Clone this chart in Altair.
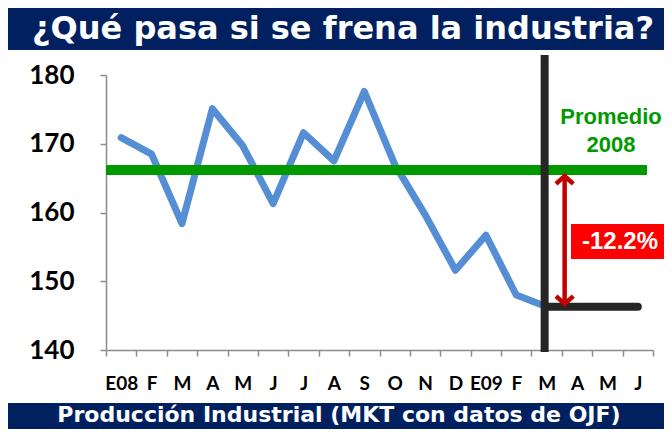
import json
import altair as alt
import pandas as pd

# ---- data ----
keys = ["E08", "F08", "M08", "A08", "MY08", "JN08", "JL08", "AG08", "S08", "O08",
        "N08", "D08", "E09", "F09", "M09", "A09", "MY09", "JN09"]
labels = ["E08", "F", "M", "A", "M", "J", "J", "A", "S", "O", "N", "D", "E09", "F", "M", "A", "M", "J"]
values = [170.9, 168.5, 158.4, 175.1, 169.7, 161.3, 171.6, 167.5, 177.6, 167.0,
          159.7, 151.6, 156.7, 148.0, 146.3]
promedio_2008 = 166.2
last_value = 146.3
change_label = "-12.2%"
title_text = "¿Qué pasa si se frena la industria?"
source_text = "Producción Industrial (MKT con datos de OJF)"
avg_label = ["Promedio", "2008"]

W, H = 547, 275
NAVY = "#002060"
BLUE = "#558ED5"
GREEN = "#009900"
DARK = "#262626"
RED = "#C00000"
AXIS = "#8c8c8c"

df = pd.DataFrame({"key": keys[:len(values)], "v": values})
label_expr = f"{json.dumps(labels)}[indexof({json.dumps(keys)}, datum.value)]"

x_enc = alt.X("key:N", sort=keys, bandPosition=0.5,
              scale=alt.Scale(type="band", domain=keys, paddingInner=0, paddingOuter=0),
              axis=alt.Axis(tickBand="extent", labelExpr=label_expr, labelAngle=0, title=None,
                            labelFont="Lato", labelFontSize=19, labelFontWeight="bold",
                            labelColor="black", tickSize=6, tickColor=AXIS, tickWidth=1.5,
                            domainColor=AXIS, domainWidth=1.5, labelPadding=18, grid=False))
y_enc = alt.Y("v:Q", scale=alt.Scale(domain=[140, 180], nice=False, zero=False),
              axis=alt.Axis(values=[140, 150, 160, 170, 180], title=None, labelFont="Lato",
                            labelFontSize=26, labelFontWeight="bold", labelColor="black",
                            tickSize=6, tickColor=AXIS, tickWidth=1.5, domainColor=AXIS,
                            domainWidth=1.5, labelPadding=26, grid=False))

line = alt.Chart(df).mark_line(color=BLUE, strokeWidth=7, strokeCap="round",
                               strokeJoin="round").encode(x=x_enc, y=y_enc)

one = pd.DataFrame({"a": [0]})

green = alt.Chart(one).mark_rule(color=GREEN, strokeWidth=10).encode(
    y=alt.datum(promedio_2008), x=alt.value(0), x2=alt.value(541))

vert = alt.Chart(one).mark_rule(color=DARK, strokeWidth=8, xOffset=-2).encode(
    x=alt.datum("M09", bandPosition=0.5), y=alt.value(-20), y2=alt.value(277))

hline_df = pd.DataFrame({"key": ["M09", "JN09"], "v": [last_value, last_value]})
hline = alt.Chart(hline_df).mark_line(color=DARK, strokeWidth=8, strokeCap="round").encode(
    x=alt.X("key:N", sort=keys, bandPosition=0.5), y="v:Q")

arrow = alt.Chart(one).mark_rule(color=RED, strokeWidth=4.5, xOffset=18).encode(
    x=alt.datum("M09", bandPosition=0.5), y=alt.datum(promedio_2008 - 0.9),
    y2=alt.datum(last_value + 0.4))
head_up = alt.Chart(one).mark_point(shape="M -1 0.9 L 0 0 L 1 0.9", filled=False, color=RED,
                                    strokeWidth=4.5, size=300, xOffset=18, opacity=1).encode(
    x=alt.datum("M09", bandPosition=0.5), y=alt.datum(promedio_2008 - 0.9))
head_dn = alt.Chart(one).mark_point(shape="M -1 -0.9 L 0 0 L 1 -0.9", filled=False, color=RED,
                                    strokeWidth=4.5, size=300, xOffset=18, opacity=1).encode(
    x=alt.datum("M09", bandPosition=0.5), y=alt.datum(last_value + 0.4))

box = alt.Chart(one).mark_rect(color="#FF0000").encode(
    x=alt.value(465), x2=alt.value(570), y=alt.value(149), y2=alt.value(184))
box_txt = alt.Chart(pd.DataFrame({"t": [change_label]})).mark_text(
    font="Liberation Sans", fontSize=24, fontWeight="bold", color="white").encode(
    x=alt.value(514), y=alt.value(167), text="t:N")

avg_txt = alt.Chart(pd.DataFrame({"t": avg_label, "yy": [42, 70]})).mark_text(
    font="Liberation Sans", fontSize=22, fontWeight="bold", color=GREEN).encode(
    x=alt.value(505), y=alt.Y("yy:Q", scale=None), text="t:N")

top_band = alt.Chart(one).mark_rect(color=NAVY).encode(
    x=alt.value(-98), x2=alt.value(W + 11), y=alt.value(-70), y2=alt.value(-25))
top_txt = alt.Chart(pd.DataFrame({"t": [title_text]})).mark_text(
    font="DejaVu Sans", fontSize=32, fontWeight="bold", color="white").encode(
    x=alt.value(237), y=alt.value(-46), text="t:N")

bot_band = alt.Chart(one).mark_rect(color=NAVY).encode(
    x=alt.value(-98), x2=alt.value(W + 11), y=alt.value(328), y2=alt.value(360))
bot_txt = alt.Chart(pd.DataFrame({"t": [source_text]})).mark_text(
    font="DejaVu Sans", fontSize=22, fontWeight="bold", color="white").encode(
    x=alt.value(233), y=alt.value(340), text="t:N")

chart = alt.layer(
    line, green, vert, hline, arrow, head_up, head_dn, box, box_txt, avg_txt,
    top_band, top_txt, bot_band, bot_txt
).properties(
    width=W, height=H, autosize="none",
    padding={"left": 98, "top": 67, "right": 11, "bottom": 79},
    background="white"
).configure_view(stroke=None)

chart.save("out.html", embed_options={"renderer": "svg", "actions": False})
